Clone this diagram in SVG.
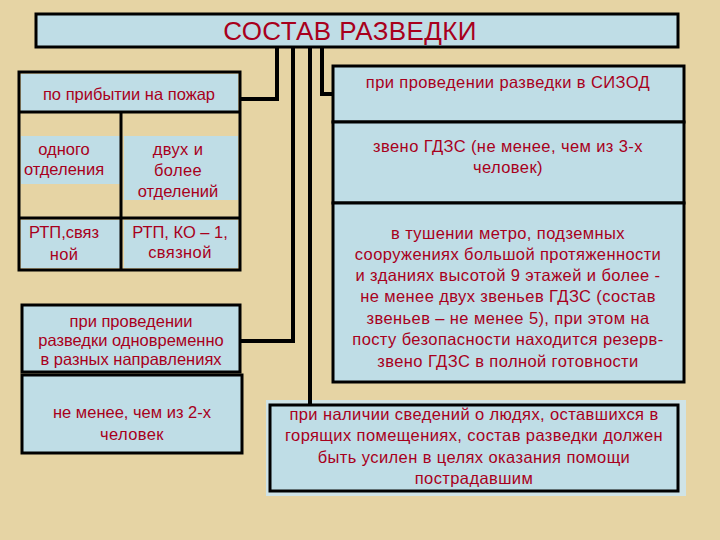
<svg xmlns="http://www.w3.org/2000/svg" width="720" height="540" viewBox="0 0 720 540">
<style>
.b{fill:#bfdde6;stroke:#000;stroke-width:3}
.t{font-family:"Liberation Sans",Arial,sans-serif;font-size:16.5px;letter-spacing:0.4px;fill:#a8001c;text-anchor:middle}
.c{fill:none;stroke:#000;stroke-width:4}
</style>
<rect width="720" height="540" fill="#e6d4a4"/>
<g id="title"><rect class="b" x="36" y="14" width="642" height="33"/><text class="t" x="350" y="40" style="font-size:26px">СОСТАВ РАЗВЕДКИ</text></g>
<g id="left">
<rect x="19" y="72" width="221" height="198" fill="#e6d4a4" stroke="#000" stroke-width="3"/>
<rect x="21" y="74" width="217" height="38" fill="#bfdde6"/>
<rect x="21" y="136" width="99" height="48" fill="#bfdde6"/>
<rect x="124" y="136" width="114" height="64" fill="#bfdde6"/>
<rect x="21" y="220" width="99" height="48" fill="#bfdde6"/>
<rect x="124" y="220" width="114" height="48" fill="#bfdde6"/>
<path d="M19 112H240M19 218H240M121 112V270" stroke="#000" stroke-width="3"/>
<text class="t" x="129" y="100" style="letter-spacing:0">по прибытии на пожар</text>
<text class="t" x="64" y="155" style="letter-spacing:0">одного</text><text class="t" x="64" y="175" style="letter-spacing:0">отделения</text>
<text class="t" x="178" y="155">двух и</text><text class="t" x="178" y="176">более</text><text class="t" x="178" y="197" style="letter-spacing:0">отделений</text>
<text class="t" x="64" y="238" style="letter-spacing:0">РТП,связ</text><text class="t" x="64" y="260">ной</text>
<text class="t" x="180" y="238" style="letter-spacing:0">РТП, КО – 1,</text><text class="t" x="180" y="258">связной</text>
</g>
<g id="dir"><rect class="b" x="22" y="305" width="218" height="67"/>
<text class="t" x="131" y="327" style="letter-spacing:0">при проведении</text><text class="t" x="131" y="346" style="letter-spacing:0">разведки одновременно</text><text class="t" x="131" y="365" style="letter-spacing:0">в разных направлениях</text></g>
<g id="two"><rect class="b" x="22" y="375" width="220" height="78"/>
<text class="t" x="132" y="418" style="letter-spacing:0">не менее, чем из 2-х</text><text class="t" x="132" y="440">человек</text></g>
<g id="r1"><rect class="b" x="333" y="66" width="351" height="56"/><text class="t" x="508" y="88">при проведении разведки  в СИЗОД</text></g>
<g id="r2"><rect class="b" x="333" y="122" width="351" height="81"/><text class="t" x="508" y="152">звено ГДЗС (не менее, чем из 3-х</text><text class="t" x="508" y="173">человек)</text></g>
<g id="r3"><rect class="b" x="333" y="203" width="351" height="179"/>
<text class="t" x="508" y="239">в тушении метро, подземных</text>
<text class="t" x="508" y="260">сооружениях большой протяженности</text>
<text class="t" x="508" y="281">и зданиях высотой 9 этажей  и более -</text>
<text class="t" x="508" y="302">не менее двух звеньев ГДЗС (состав</text>
<text class="t" x="508" y="324">звеньев – не менее 5), при этом на</text>
<text class="t" x="508" y="345">посту безопасности находится резерв-</text>
<text class="t" x="508" y="367">звено ГДЗС в полной  готовности</text></g>
<g id="bottom"><rect x="266" y="400" width="420" height="96" fill="#cfe3e6"/><rect class="b" x="270" y="405" width="408" height="86"/>
<text class="t" x="474" y="420">при наличии сведений о людях, оставшихся в</text>
<text class="t" x="474" y="441">горящих помещениях, состав разведки должен</text>
<text class="t" x="474" y="463">быть усилен в целях оказания помощи</text>
<text class="t" x="474" y="484">пострадавшим</text></g>
<g id="connectors">
<path class="c" d="M277 47V99H240"/>
<path class="c" d="M293 47V341H240"/>
<path class="c" d="M310 47V405"/>
<path class="c" d="M322 47V94H333"/>
</g>
</svg>
